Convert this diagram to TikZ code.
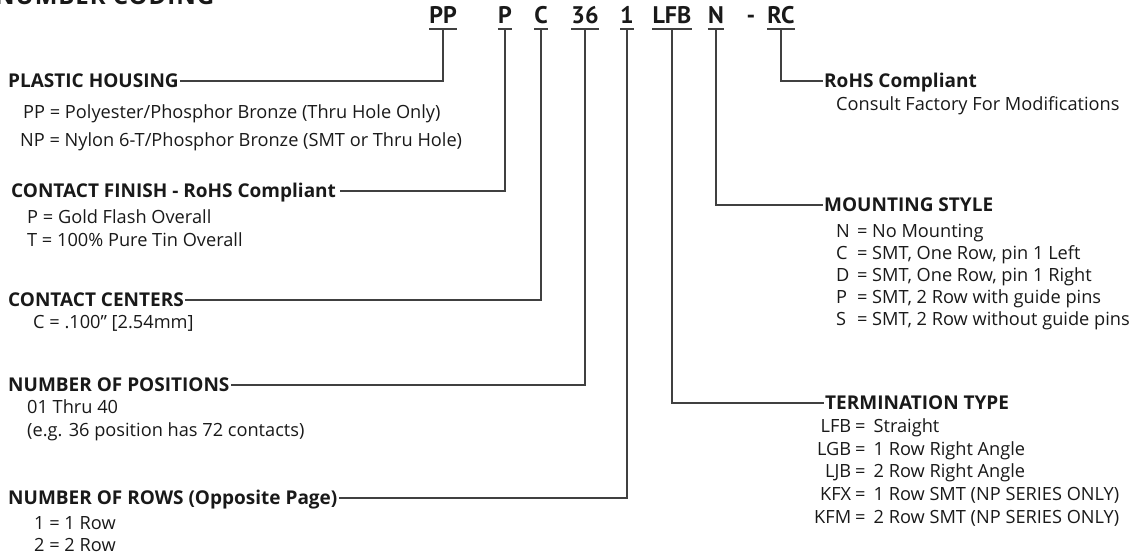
\documentclass[tikz,border=0pt]{standalone}
\usepackage{fontspec}
\setmainfont{Open Sans}
\newfontfamily\codefont{PT Sans}
\newcommand\mline[2]{\makebox[21pt][l]{#1}=\hspace{4.5pt}#2}
\newcommand\tline[2]{\makebox[36pt][r]{#1}\hspace{4pt}=\hspace{8pt}#2}
\begin{document}
\begin{tikzpicture}[x=1pt,y=-1pt,
  code/.style={font=\codefont\fontsize{24}{24}\selectfont\bfseries, inner sep=0pt, anchor=base, text=black!90},
  head/.style={font=\fontsize{19}{19}\selectfont\bfseries, inner xsep=1.5pt, inner ysep=0pt, text height=13.5pt, text depth=0pt, anchor=west, text=black!90},
  body/.style={font=\fontsize{18.2}{18.2}\selectfont, inner sep=0pt, text height=13pt, text depth=0pt, anchor=west, text=black!90},
  conn/.style={draw=black!75, line width=1.1pt},
]
\useasboundingbox (0,0) rectangle (1141,556);
\clip (0,0) rectangle (1141,556);
% title (clipped at the top edge)
\node[font=\fontsize{24}{24}\selectfont\bfseries, anchor=base west, inner sep=0pt, text=black!90] (title) at (-5,5) {\addfontfeature{LetterSpace=4}NUMBER CODING};
% part number codes
\node[code] (cPP) at (443,24) {PP};
\node[code] (cP) at (505,24) {P};
\node[code] (cC) at (541,24) {C};
\node[code] (c36) at (585,24) {36};
\node[code] (c1) at (627,24) {1};
\node[code] (cLFB) at (672,24) {LFB};
\node[code] (cN) at (716,24) {N};
\node[code] (cdash) at (751,24) {-};
\node[code] (cRC) at (781,24) {RC};
\foreach \c in {cPP,cP,cC,c36,c1,cLFB,cN,cRC}{
  \draw[conn] ([yshift=-5pt]\c.base west) -- ([yshift=-5pt]\c.base east);
}
% left column
\node[head] (hPH) at (6.5,81) {PLASTIC HOUSING};
\node[body] (bPP) at (23,112) {PP = Polyester/Phosphor Bronze (Thru Hole Only)};
\node[body] (bNP) at (20,140) {NP = Nylon 6-T/Phosphor Bronze (SMT or Thru Hole)};
\node[head, inner xsep=4pt] (hCF) at (7,191) {CONTACT FINISH - RoHS Compliant};
\node[body] (bP) at (27,217) {P = Gold Flash Overall};
\node[body] (bT) at (27,240) {T = 100\% Pure Tin Overall};
\node[head] (hCC) at (6.5,300) {CONTACT CENTERS};
\node[body] (bC) at (33,322) {C = .100” [2.54mm]};
\node[head] (hNP) at (6.5,385) {NUMBER OF POSITIONS};
\node[body] (b01) at (27,407) {01 Thru 40};
\node[body] (beg) at (27,430) {(e.g. 36 position has 72 contacts)};
\node[head] (hNR) at (6.5,498) {NUMBER OF ROWS (Opposite Page)};
\node[body] (b1) at (34,523) {1 = 1 Row};
\node[body] (b2) at (34,545) {2 = 2 Row};
% right column
\node[head] (hRC) at (822.5,81) {RoHS Compliant};
\node[body] (bCF) at (836,104) {Consult Factory For Modifications};
\node[head] (hMS) at (822.5,205) {MOUNTING STYLE};
\node[body] (mN) at (836,231) {\mline{N}{No Mounting}};
\node[body] (mC) at (836,253) {\mline{C}{SMT, One Row, pin 1 Left}};
\node[body] (mD) at (836,275) {\mline{D}{SMT, One Row, pin 1 Right}};
\node[body] (mP) at (836,297) {\mline{P}{SMT, 2 Row with guide pins}};
\node[body] (mS) at (836,319) {\mline{S}{SMT, 2 Row without guide pins}};
\node[head] (hTT) at (823.5,403) {TERMINATION TYPE};
\node[body] (tLFB) at (815,426) {\tline{LFB}{Straight}};
\node[body] (tLGB) at (815,449) {\tline{LGB}{1 Row Right Angle}};
\node[body] (tLJB) at (815,471) {\tline{LJB}{2 Row Right Angle}};
\node[body] (tKFX) at (815,494) {\tline{KFX}{1 Row SMT (NP SERIES ONLY)}};
\node[body] (tKFM) at (815,517) {\tline{KFM}{2 Row SMT (NP SERIES ONLY)}};
% connectors
\draw[conn] ([yshift=-5pt]cPP.base) |- (hPH.east);
\draw[conn] ([yshift=-5pt]cP.base) |- (hCF.east);
\draw[conn] ([yshift=-5pt]cC.base) |- (hCC.east);
\draw[conn] ([yshift=-5pt]c36.base) |- (hNP.east);
\draw[conn] ([yshift=-5pt]c1.base) |- (hNR.east);
\draw[conn] ([yshift=-5pt]cLFB.base) |- (hTT.west);
\draw[conn] ([yshift=-5pt]cN.base) |- (hMS.west);
\draw[conn] ([yshift=-5pt]cRC.base) |- (hRC.west);
\end{tikzpicture}
\end{document}
